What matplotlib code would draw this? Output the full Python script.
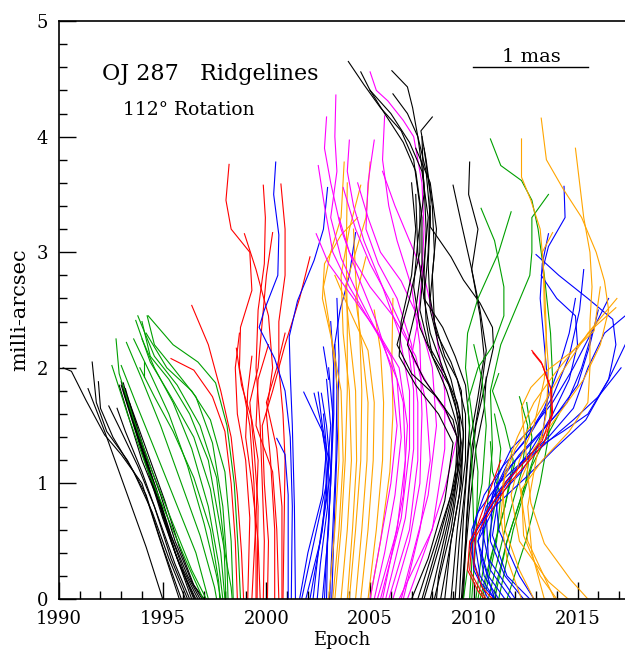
import matplotlib
matplotlib.use("Agg")
import matplotlib.pyplot as plt
from matplotlib.ticker import MultipleLocator

plt.rcParams['font.family'] = ['DejaVu Serif']

# ridgelines, each one a list of (epoch, milli-arcsec) points

black_early = [
    [(1991.4,1.82),(1992.2,1.45),(1993.2,0.95),(1994.2,0.45),(1995.0,0.0)],
    [(1990.2,2.0),(1990.6,1.97),(1991.3,1.72),(1992.2,1.42),(1993.0,1.25),(1994.0,1.0),(1994.8,0.55),(1995.8,0.0)],
    [(1991.6,2.05),(1991.8,1.7),(1992.3,1.45),(1993.3,1.2),(1994.2,0.9),(1995.0,0.45),(1995.9,0.0)],
    [(1991.9,1.88),(1992.0,1.65),(1992.6,1.4),(1993.6,1.1),(1994.5,0.75),(1995.3,0.35),(1996.1,0.0)],
    [(1992.4,1.67),(1993.0,1.45),(1993.8,1.15),(1994.6,0.8),(1995.4,0.35),(1996.2,0.0)],
    [(1992.8,1.65),(1993.2,1.45),(1994.0,1.1),(1994.8,0.7),(1995.6,0.3),(1996.3,0.0)],
    [(1993.0,1.88),(1993.3,1.7),(1993.9,1.35),(1994.6,0.95),(1995.4,0.5),(1996.4,0.0)],
    [(1993.1,1.87),(1993.5,1.6),(1994.1,1.25),(1994.8,0.85),(1995.6,0.4),(1996.5,0.0)],
    [(1993.0,1.85),(1993.6,1.5),(1994.3,1.1),(1995.0,0.7),(1995.8,0.3),(1996.6,0.0)],
    [(1993.2,1.82),(1993.8,1.45),(1994.5,1.05),(1995.2,0.65),(1996.0,0.25),(1996.7,0.0)],
    [(1993.1,1.8),(1993.9,1.35),(1994.7,0.95),(1995.4,0.55),(1996.2,0.2),(1996.8,0.0)],
    [(1993.3,1.75),(1994.1,1.3),(1994.9,0.9),(1995.6,0.5),(1996.4,0.15),(1996.9,0.0)],
    [(1993.4,1.7),(1994.3,1.25),(1995.1,0.85),(1995.8,0.45),(1996.5,0.12),(1997.0,0.0)],
    [(1992.9,1.85),(1993.4,1.55),(1994.0,1.2),(1994.9,0.8),(1995.7,0.35),(1996.55,0.0)],
]

green_early = [
    [(1992.55,2.02),(1993.3,1.6),(1994.2,1.15),(1995.2,0.72),(1996.2,0.3),(1996.95,0.0)],
    [(1992.75,2.25),(1992.9,1.95),(1993.6,1.55),(1994.5,1.1),(1995.5,0.65),(1996.4,0.25),(1997.1,0.0)],
    [(1993.0,2.02),(1993.7,1.7),(1994.6,1.3),(1995.6,0.85),(1996.6,0.4),(1997.2,0.0)],
    [(1993.25,2.22),(1994.0,1.9),(1994.9,1.5),(1995.8,1.05),(1996.8,0.55),(1997.5,0.1),(1997.6,0.0)],
    [(1993.6,2.25),(1994.4,1.95),(1995.3,1.6),(1996.2,1.15),(1997.0,0.65),(1997.6,0.2),(1997.8,0.0)],
    [(1994.0,2.25),(1994.6,2.0),(1995.5,1.7),(1996.4,1.3),(1997.2,0.8),(1997.7,0.3),(1997.9,0.0)],
    [(1993.7,2.41),(1994.4,2.05),(1995.4,1.75),(1996.5,1.4),(1997.3,0.95),(1997.8,0.4),(1998.0,0.0)],
    [(1993.8,2.45),(1994.6,2.1),(1995.7,1.85),(1996.8,1.5),(1997.6,1.05),(1997.95,0.5),(1998.05,0.0)],
    [(1994.25,2.45),(1994.6,2.2),(1995.5,2.0),(1996.6,1.75),(1997.4,1.35),(1997.9,0.8),(1998.1,0.3),(1998.15,0.0)],
    [(1994.3,2.45),(1995.5,2.2),(1996.7,2.05),(1997.55,1.87),(1998.1,1.5),(1998.45,1.0),(1998.65,0.4),(1998.75,0.0)],
    [(1993.9,2.0),(1994.6,1.75),(1995.5,1.45),(1996.5,1.05),(1997.3,0.6),(1997.7,0.15),(1997.75,0.0)],
    [(1994.0,2.4),(1994.4,2.1),(1995.3,1.9),(1996.3,1.6),(1997.2,1.2),(1997.8,0.6),(1998.3,0.1),(1998.35,0.0)],
    [(1994.1,2.05),(1994.1,1.92)],
    [(1994.2,2.3),(1995.2,2.0),(1996.4,1.8),(1997.3,1.55),(1998.0,1.1),(1998.3,0.5),(1998.4,0.0)],
]

red_early = [
    [(1995.4,2.08),(1996.5,1.98),(1997.4,1.75),(1998.0,1.45),(1998.3,1.0),(1998.5,0.5),(1998.6,0.0)],
    [(1996.4,2.54),(1997.2,2.2),(1997.8,1.8),(1998.3,1.4),(1998.6,0.9),(1998.8,0.4),(1998.9,0.0)],
    [(1998.2,3.76),(1998.05,3.45),(1998.3,3.2),(1999.2,3.0),(1999.3,2.67),(1998.75,2.35),(1998.7,2.0),(1999.2,1.5),(1999.4,1.0),(1999.5,0.4),(1999.5,0.0)],
    [(1999.85,3.58),(1999.95,3.3),(1999.9,2.9),(1999.6,2.5),(1999.5,2.0),(1999.7,1.5),(1999.8,1.0),(1999.9,0.5),(1999.85,0.0)],
    [(2000.7,3.59),(2000.9,3.2),(2000.9,2.8),(2000.6,2.4),(2000.6,2.0),(2000.8,1.6),(2000.9,1.2),(2000.85,0.6),(2000.8,0.0)],
    [(2000.3,3.17),(2000.0,2.8),(1999.8,2.4),(1999.6,2.0),(1999.2,1.7),(1999.4,1.3),(1999.6,0.8),(1999.55,0.0)],
    [(1998.94,3.16),(1999.5,2.85),(2000.1,2.45),(2000.3,2.0),(2000.0,1.6),(2000.2,1.2),(2000.4,0.6),(2000.4,0.0)],
    [(2002.1,2.96),(2001.6,2.6),(2000.9,2.2),(2000.3,1.8),(1999.8,1.5),(1999.9,1.0),(2000.1,0.5),(2000.05,0.0)],
    [(1998.55,2.17),(1998.8,1.85),(1999.3,1.55),(1999.6,1.2),(1999.5,0.7),(1999.3,0.0)],
    [(1998.7,2.3),(1998.5,2.0),(1998.6,1.6),(1999.0,1.2),(1999.2,0.7),(1999.1,0.0)],
    [(1999.3,2.1),(1999.1,1.8),(1999.0,1.4),(1999.3,1.0),(1999.6,0.5),(1999.7,0.0)],
    [(2000.1,2.2),(1999.6,1.9),(1999.5,1.5),(2000.3,1.1),(2000.5,0.6),(2000.6,0.0)],
    [(2000.9,2.3),(2000.5,2.0),(2000.0,1.7),(2000.5,1.3),(2000.75,0.8),(2000.75,0.0)],
]

blue_early = [
    [(2000.45,3.78),(2000.35,3.5),(2000.6,3.15),(2000.55,2.8),(1999.9,2.5),(1999.65,2.35),(2000.4,2.08),(2000.9,1.8),(2001.15,1.4),(2001.25,0.8),(2001.2,0.0)],
    [(2002.95,3.56),(2002.75,3.2),(2002.3,2.93),(2001.5,2.58),(2001.1,2.27),(2001.15,1.95),(2001.25,1.5),(2001.35,0.8),(2001.4,0.0)],
    [(2000.5,1.39),(2000.9,1.25),(2001.05,0.9),(2001.05,0.4),(2001.05,0.0)],
    [(2004.3,3.17),(2004.0,2.8),(2003.55,2.5),(2003.25,2.15),(2003.2,1.6),(2003.1,1.0),(2002.9,0.4),(2002.8,0.0)],
    [(2001.8,1.79),(2002.3,1.6),(2002.7,1.45),(2002.95,1.15),(2002.7,0.6),(2002.1,0.0)],
    [(2002.3,1.78),(2002.6,1.55),(2002.85,1.3),(2002.9,0.9),(2002.5,0.4),(2002.25,0.0)],
    [(2002.5,1.79),(2002.7,1.5),(2003.0,1.2),(2002.95,0.8),(2002.6,0.3),(2002.45,0.0)],
    [(2002.65,1.78),(2002.9,1.5),(2003.1,1.1),(2003.0,0.6),(2002.7,0.0)],
    [(2003.1,2.4),(2003.25,2.0),(2003.25,1.6),(2003.1,1.0),(2002.95,0.5),(2002.9,0.0)],
    [(2003.3,2.2),(2003.4,1.8),(2003.35,1.2),(2003.2,0.6),(2003.05,0.0)],
    [(2003.0,2.0),(2003.2,1.6),(2003.1,1.1),(2002.6,0.5),(2001.9,0.0)],
    [(2002.9,1.9),(2003.1,1.5),(2002.9,1.0),(2002.3,0.5),(2001.7,0.0)],
    [(2002.75,1.6),(2002.9,1.3),(2002.7,0.9),(2002.0,0.4),(2001.6,0.0)],
    [(2003.4,2.6),(2003.5,2.1),(2003.45,1.5),(2003.3,0.8),(2003.15,0.0)],
    [(2002.75,2.18),(2003.0,1.9)],
]

orange_early = [
    [(2003.0,0.0),(2003.3,0.6),(2003.5,1.2),(2003.45,1.8),(2003.1,2.3),(2002.75,2.7),(2003.1,3.0),(2003.6,3.3),(2003.75,3.78)],
    [(2003.2,0.0),(2003.5,0.6),(2003.7,1.2),(2003.6,1.8),(2003.2,2.2),(2002.7,2.6),(2002.8,2.9),(2003.6,3.15),(2004.4,3.3)],
    [(2003.6,0.0),(2003.9,0.6),(2004.1,1.2),(2004.0,1.8),(2003.7,2.3),(2003.6,2.8),(2004.0,3.2),(2004.55,3.58)],
    [(2003.9,0.0),(2004.15,0.6),(2004.35,1.2),(2004.3,1.8),(2004.0,2.3),(2003.8,2.7),(2004.3,3.0),(2004.8,3.3),(2005.0,3.78)],
    [(2004.3,0.0),(2004.6,0.6),(2004.85,1.2),(2004.9,1.7),(2004.6,2.2),(2004.3,2.6),(2004.8,2.96)],
    [(2004.55,0.0),(2004.9,0.6),(2005.15,1.2),(2005.2,1.7),(2004.9,2.15),(2004.0,2.5),(2003.3,2.8)],
    [(2004.9,0.0),(2005.3,0.6),(2005.6,1.2),(2005.65,1.7),(2005.5,2.15),(2005.2,2.5)],
    [(2005.0,0.0),(2005.5,0.5),(2005.95,1.1),(2006.1,1.6),(2006.05,2.1),(2006.1,2.6)],
    [(2003.3,0.0),(2003.6,0.6),(2003.8,1.2),(2003.9,1.8),(2003.9,2.4),(2003.85,3.0),(2003.9,3.6)],
    [(2004.0,0.0),(2004.3,0.6),(2004.55,1.2),(2004.6,1.8),(2004.5,2.3),(2004.3,2.8),(2004.2,3.2)],
]

magenta = [
    [(2002.9,4.17),(2002.8,3.9),(2003.1,3.6),(2003.6,3.2),(2004.4,2.8),(2005.3,2.4),(2006.0,2.0),(2006.3,1.5),(2006.0,1.0),(2005.5,0.5),(2005.0,0.0)],
    [(2003.35,4.36),(2003.3,4.0),(2003.4,3.7),(2003.1,3.3),(2003.6,2.95),(2004.5,2.6),(2005.5,2.25),(2006.3,1.9),(2006.5,1.4),(2006.2,0.9),(2005.7,0.4),(2005.2,0.0)],
    [(2002.5,3.75),(2002.8,3.4),(2003.2,3.0),(2004.0,2.7),(2005.0,2.4),(2006.0,2.1),(2006.6,1.7),(2006.7,1.2),(2006.3,0.6),(2005.35,0.0)],
    [(2004.0,3.97),(2003.9,3.7),(2004.2,3.4),(2004.7,3.1),(2005.6,2.7),(2006.4,2.3),(2006.9,1.8),(2006.9,1.3),(2006.5,0.7),(2005.5,0.0)],
    [(2003.7,3.56),(2004.3,3.2),(2005.0,2.9),(2005.9,2.6),(2006.8,2.25),(2007.1,1.8),(2007.1,1.3),(2006.7,0.7),(2005.75,0.0)],
    [(2005.2,3.97),(2004.9,3.6),(2004.8,3.2),(2005.4,2.9),(2006.3,2.6),(2007.0,2.2),(2007.3,1.7),(2007.3,1.2),(2006.9,0.6),(2005.9,0.0)],
    [(2005.7,4.18),(2005.6,3.8),(2005.9,3.4),(2006.3,3.1),(2007.0,2.7),(2007.4,2.2),(2007.5,1.6),(2007.4,1.0),(2006.9,0.5),(2006.1,0.0)],
    [(2005.0,4.56),(2005.3,4.4),(2005.85,4.31),(2006.6,4.14),(2007.1,4.0),(2007.5,3.6),(2007.6,3.2),(2007.5,2.8),(2007.3,2.4),(2007.0,2.1),(2007.8,1.85),(2008.7,1.6),(2009.2,1.4),(2008.6,0.95),(2007.8,0.5),(2006.8,0.0)],
    [(2004.4,3.6),(2004.9,3.3),(2005.5,3.0),(2006.5,2.75),(2007.4,2.4),(2008.0,2.0),(2008.2,1.5),(2007.8,0.9),(2006.5,0.0)],
    [(2003.5,3.3),(2004.0,3.0),(2005.0,2.7),(2006.1,2.45),(2007.2,2.1),(2007.7,1.7),(2007.9,1.2),(2007.4,0.6),(2006.6,0.0)],
    [(2002.4,3.16),(2003.0,2.9),(2004.2,2.6),(2005.4,2.3),(2006.4,2.0),(2006.8,1.5),(2006.6,0.9),(2006.0,0.35),(2005.6,0.0)],
    [(2005.6,3.7),(2006.2,3.4),(2006.9,3.1),(2007.6,2.8),(2008.1,2.4),(2008.6,1.8),(2008.6,1.3),(2008.0,0.6),(2006.4,0.0)],
]

black_late = [
    [(2003.95,4.65),(2004.7,4.45),(2005.5,4.25),(2006.5,4.05),(2007.1,3.8),(2007.4,3.4),(2007.4,3.0),(2006.9,2.6),(2006.3,2.2),(2007.0,1.95),(2008.2,1.75),(2009.0,1.55),(2009.3,1.3),(2008.9,0.9),(2008.1,0.45),(2007.3,0.0)],
    [(2004.55,4.56),(2005.0,4.4),(2005.7,4.2),(2006.6,3.95),(2007.2,3.7),(2007.5,3.3),(2007.5,2.9),(2007.2,2.5),(2006.8,2.2),(2007.6,1.9),(2008.6,1.65),(2009.2,1.4),(2009.1,1.0),(2008.5,0.55),(2007.6,0.0)],
    [(2006.05,4.57),(2006.8,4.43),(2007.05,4.25),(2007.3,4.0),(2007.6,3.6),(2007.7,3.2),(2007.6,2.8),(2007.7,2.4),(2008.0,2.1),(2008.7,1.8),(2009.2,1.5),(2009.35,1.2),(2008.8,0.7),(2007.9,0.0)],
    [(2006.1,4.37),(2006.8,4.2),(2007.3,4.0),(2007.7,3.7),(2007.9,3.3),(2007.8,2.9),(2007.9,2.5),(2008.3,2.2),(2008.9,1.9),(2009.3,1.6),(2009.4,1.2),(2008.9,0.6),(2008.1,0.0)],
    [(2008.0,4.17),(2007.45,4.05),(2007.7,3.8),(2008.0,3.4),(2008.1,3.0),(2007.9,2.6),(2008.2,2.3),(2008.9,2.05),(2009.4,1.8),(2009.5,1.4),(2009.3,0.9),(2008.8,0.4),(2008.4,0.0)],
    [(2005.0,4.4),(2006.0,4.2),(2006.9,3.95),(2007.5,3.7),(2007.8,3.3),(2007.6,2.9),(2007.4,2.5),(2007.8,2.2),(2008.6,1.95),(2009.2,1.7),(2009.5,1.45),(2009.4,1.0),(2008.9,0.5),(2008.6,0.0)],
    [(2007.2,3.9),(2007.9,3.6),(2008.2,3.2),(2008.0,2.8),(2008.1,2.4),(2008.6,2.1),(2009.2,1.9),(2009.6,1.6),(2009.6,1.2),(2009.2,0.6),(2008.9,0.0)],
    [(2007.5,4.0),(2007.6,3.5),(2007.3,3.1),(2007.1,2.7),(2007.4,2.35),(2008.0,2.1),(2008.8,1.85),(2009.3,1.55),(2009.2,1.1),(2008.3,0.5),(2007.5,0.0)],
    [(2007.0,3.6),(2007.2,3.2),(2007.0,2.8),(2006.5,2.4),(2006.4,2.1),(2007.2,1.85),(2008.3,1.6),(2009.0,1.35),(2008.6,0.85),(2007.8,0.35),(2007.0,0.0)],
    [(2007.9,3.4),(2007.9,3.22),(2008.9,2.96),(2009.5,2.76),(2010.3,2.56),(2010.9,2.35),(2010.95,2.18),(2010.6,1.9),(2010.1,1.5),(2009.8,1.0),(2009.6,0.5),(2009.4,0.0)],
    [(2009.8,3.78),(2009.75,3.5),(2010.2,3.2),(2009.9,2.85),(2010.3,2.5),(2010.6,2.15),(2010.35,1.8),(2009.9,1.3),(2009.65,0.7),(2009.5,0.0)],
    [(2009.0,3.58),(2009.4,3.25),(2009.9,2.85),(2010.3,2.45),(2010.5,2.1),(2010.2,1.75),(2009.75,1.3),(2009.5,0.7),(2009.3,0.0)],
    [(2010.6,1.92),(2010.5,1.65),(2010.1,1.3),(2009.8,0.8),(2009.55,0.3),(2009.45,0.0)],
    [(2007.2,3.5),(2007.3,3.0),(2007.6,2.6),(2008.5,2.35),(2009.1,2.1),(2009.6,1.85),(2009.8,1.5),(2009.6,1.0),(2009.3,0.5),(2009.1,0.0)],
    [(2007.6,3.9),(2007.9,3.5),(2007.8,3.0),(2007.6,2.6),(2007.9,2.3),(2008.5,2.0),(2009.1,1.7),(2009.4,1.35),(2009.0,0.8),(2008.3,0.2),(2008.2,0.0)],
]

green_late = [
    [(2010.8,3.98),(2011.3,3.75),(2012.3,3.62),(2012.8,3.45),(2013.1,3.2),(2013.4,2.8),(2013.7,2.3),(2013.8,1.9),(2013.6,1.4),(2013.2,1.0),(2012.5,0.5),(2011.6,0.0)],
    [(2010.35,3.38),(2011.0,3.1),(2011.45,2.7),(2011.45,2.45),(2010.95,2.2),(2010.2,2.0),(2009.7,1.7),(2009.9,1.2),(2010.0,0.6),(2009.8,0.0)],
    [(2011.8,3.35),(2011.2,3.0),(2010.2,2.6),(2009.7,2.3),(2009.6,2.0),(2009.9,1.6),(2010.2,1.1),(2010.1,0.5),(2009.9,0.0)],
    [(2013.6,3.5),(2012.8,3.3),(2012.8,3.0),(2012.7,2.8),(2012.0,2.5),(2011.3,2.2),(2010.8,1.8),(2010.9,1.3),(2010.6,0.7),(2010.1,0.0)],
    [(2011.2,1.95),(2010.9,1.8),(2011.5,1.5),(2011.9,1.2),(2011.5,0.8),(2010.8,0.35),(2010.3,0.0)],
    [(2010.8,1.36),(2010.9,1.1),(2011.3,0.9),(2011.1,0.5),(2010.5,0.0)],
    [(2012.2,1.75),(2012.6,1.5),(2012.3,1.1),(2011.5,0.6),(2010.7,0.0)],
    [(2012.55,1.7),(2012.8,1.4),(2012.5,1.0),(2011.6,0.5),(2010.9,0.0)],
    [(2014.1,1.6),(2013.5,1.4),(2012.8,1.15),(2011.9,0.6),(2011.2,0.0)],
    [(2011.0,1.6),(2011.3,1.3),(2011.1,0.9),(2010.6,0.4),(2010.2,0.0)],
    [(2012.0,1.2),(2011.5,0.8),(2010.9,0.4),(2010.4,0.0)],
    [(2013.2,1.4),(2012.4,0.95),(2011.6,0.5),(2011.0,0.0)],
    [(2010.0,2.2),(2010.4,1.9),(2010.6,1.5),(2010.4,1.0),(2009.8,0.4),(2009.5,0.0)],
]

blue_late = [
    [(2014.35,3.57),(2014.4,3.3),(2013.6,3.05),(2013.25,2.8),(2014.0,2.6),(2014.9,2.45),(2015.0,2.2),(2014.6,1.9),(2013.8,1.6),(2012.8,1.3),(2011.5,1.0),(2010.5,0.7),(2010.4,0.35),(2011.0,0.0)],
    [(2013.0,2.98),(2014.1,2.8),(2015.5,2.6),(2016.7,2.42),(2016.85,2.2),(2016.5,1.9),(2015.4,1.55),(2013.9,1.3),(2012.5,1.05),(2011.0,0.8),(2010.2,0.5),(2010.5,0.2),(2011.2,0.0)],
    [(2013.6,3.16),(2013.3,2.9),(2013.2,2.6),(2013.4,2.2),(2013.6,1.8),(2013.3,1.4),(2012.3,1.1),(2011.0,0.85),(2010.0,0.55),(2010.3,0.2),(2011.0,0.0)],
    [(2017.3,2.45),(2016.3,2.3),(2015.5,2.0),(2014.8,1.65),(2013.6,1.4),(2012.4,1.2),(2011.2,1.0),(2010.2,0.75),(2009.8,0.45),(2010.3,0.15),(2011.0,0.0)],
    [(2017.3,2.2),(2016.5,1.9),(2015.5,1.6),(2014.3,1.45),(2013.0,1.3),(2011.7,1.05),(2010.6,0.8),(2010.2,0.5),(2010.7,0.2),(2011.5,0.0)],
    [(2015.7,2.3),(2015.2,2.0),(2014.5,1.7),(2013.5,1.5),(2012.2,1.25),(2011.0,0.95),(2010.4,0.6),(2010.8,0.25),(2011.8,0.0)],
    [(2016.0,2.5),(2015.6,2.2),(2015.0,1.85),(2014.0,1.6),(2012.8,1.35),(2011.5,1.1),(2010.6,0.75),(2010.7,0.35),(2012.0,0.0)],
    [(2015.3,2.85),(2015.1,2.5),(2014.6,2.1),(2013.8,1.75),(2012.8,1.45),(2011.7,1.2),(2010.9,0.9),(2010.8,0.5),(2011.5,0.2),(2012.4,0.0)],
    [(2017.1,2.0),(2016.0,1.75),(2014.8,1.55),(2013.5,1.35),(2012.2,1.15),(2011.2,0.9),(2010.9,0.55),(2011.6,0.2),(2012.7,0.0)],
    [(2014.9,2.6),(2014.6,2.3),(2014.1,2.0),(2013.4,1.65),(2012.4,1.35),(2011.4,1.15),(2010.5,0.9),(2009.9,0.6),(2010.0,0.25),(2010.7,0.0)],
    [(2016.5,2.6),(2015.8,2.35),(2014.8,2.0),(2013.8,1.7),(2012.9,1.5),(2011.8,1.3),(2011.0,1.0),(2011.2,0.6),(2012.2,0.2),(2012.9,0.0)],
]

orange_late = [
    [(2012.3,3.98),(2012.3,3.65),(2012.75,3.45),(2013.2,3.2),(2013.35,2.9),(2013.4,2.5),(2013.6,2.0),(2013.5,1.6),(2013.0,1.2),(2012.6,0.8),(2012.8,0.4),(2013.4,0.0)],
    [(2013.25,4.16),(2013.5,3.8),(2014.3,3.55),(2015.2,3.3),(2015.9,3.0),(2016.3,2.75),(2016.5,2.5),(2016.1,2.2),(2015.3,1.9),(2014.1,1.6),(2012.9,1.3),(2012.2,1.0),(2012.6,0.5),(2013.9,0.0)],
    [(2014.9,3.9),(2015.1,3.6),(2015.3,3.3),(2015.6,3.0),(2015.7,2.7),(2015.6,2.4),(2015.6,2.0),(2015.5,1.7),(2014.6,1.45),(2013.3,1.2),(2012.3,0.95),(2012.4,0.55),(2013.2,0.2),(2014.0,0.0)],
    [(2013.8,3.17),(2013.3,3.0),(2013.4,2.75),(2013.5,2.3),(2013.4,1.9),(2012.9,1.5),(2012.2,1.2),(2011.8,0.9),(2012.2,0.5),(2013.6,0.15),(2014.55,0.0)],
    [(2016.85,2.52),(2015.8,2.35),(2014.8,2.15),(2013.9,1.95),(2012.9,1.7),(2012.1,1.4),(2011.5,1.1),(2011.3,0.7),(2011.6,0.35),(2012.3,0.0)],
    [(2016.1,2.7),(2015.8,2.32),(2014.8,2.15),(2013.55,1.98),(2012.75,1.83),(2012.3,1.66),(2012.5,1.3),(2012.65,1.0),(2012.75,0.83),(2013.4,0.48),(2014.7,0.16),(2015.5,0.0)],
    [(2016.9,2.6),(2015.5,2.3),(2014.2,1.95),(2013.1,1.6),(2012.0,1.3),(2011.4,1.0),(2011.5,0.6),(2012.2,0.25),(2012.9,0.0)],
]

red_late = [
    [(2012.85,2.13),(2013.3,2.03),(2013.75,1.8),(2013.8,1.6),(2013.4,1.35),(2012.7,1.2),(2011.7,1.0),(2010.6,0.7),(2009.9,0.48),(2009.8,0.25),(2010.3,0.08),(2010.6,0.0)],
    [(2012.8,2.15),(2013.25,2.05),(2013.7,1.83),(2013.75,1.6),(2013.3,1.37),(2012.6,1.22),(2011.6,1.02),(2010.5,0.72),(2009.8,0.5),(2009.7,0.25),(2010.2,0.07),(2010.5,0.0)],
    [(2011.3,1.2),(2010.6,0.85),(2010.1,0.6),(2010.0,0.3),(2010.4,0.1),(2010.9,0.0)],
]

groups = [
    (black_early, 'black'),
    (green_early, '#00a000'),
    (red_early, '#ff0000'),
    (blue_early, '#0000ff'),
    (orange_early, '#ffa500'),
    (magenta, '#ff00ff'),
    (black_late, 'black'),
    (green_late, '#00a000'),
    (blue_late, '#0000ff'),
    (orange_late, '#ffa500'),
    (red_late, '#ff0000'),
]

scale_bar_x = [2009.95, 2015.5]
scale_bar_y = [4.6, 4.6]

fig = plt.figure(figsize=(6.25, 6.49), dpi=100)
ax = fig.add_axes([0.0944, 0.077, 0.9056, 0.8906])

for lines, col in groups:
    for pts in lines:
        xs = [p[0] for p in pts]
        ys = [p[1] for p in pts]
        ax.plot(xs, ys, color=col, lw=0.8, solid_joinstyle='round')

ax.plot(scale_bar_x, scale_bar_y, color='black', lw=1.0)
ax.text(0.835, 0.929, '1 mas', transform=ax.transAxes, ha='center', fontsize=14)
ax.text(0.076, 0.898, 'OJ 287   Ridgelines', transform=ax.transAxes, fontsize=16)
ax.text(0.113, 0.837, '112° Rotation', transform=ax.transAxes, fontsize=13.5)

ax.set_xlim(1990, 2017.29)
ax.set_ylim(0, 5)
ax.xaxis.set_major_locator(MultipleLocator(5))
ax.xaxis.set_minor_locator(MultipleLocator(1))
ax.yaxis.set_major_locator(MultipleLocator(1))
ax.yaxis.set_minor_locator(MultipleLocator(0.2))
ax.tick_params(which='both', direction='in', labelsize=13, pad=8, width=1)
ax.tick_params(which='major', length=12)
ax.tick_params(which='minor', length=6)
ax.spines['right'].set_visible(False)
for s in ['left', 'top', 'bottom']:
    ax.spines[s].set_linewidth(1.2)

ax.set_xlabel('Epoch', fontsize=13, labelpad=2)
ax.set_ylabel('milli-arcsec', fontsize=15, labelpad=5)

fig.savefig('out.png', dpi=100)
